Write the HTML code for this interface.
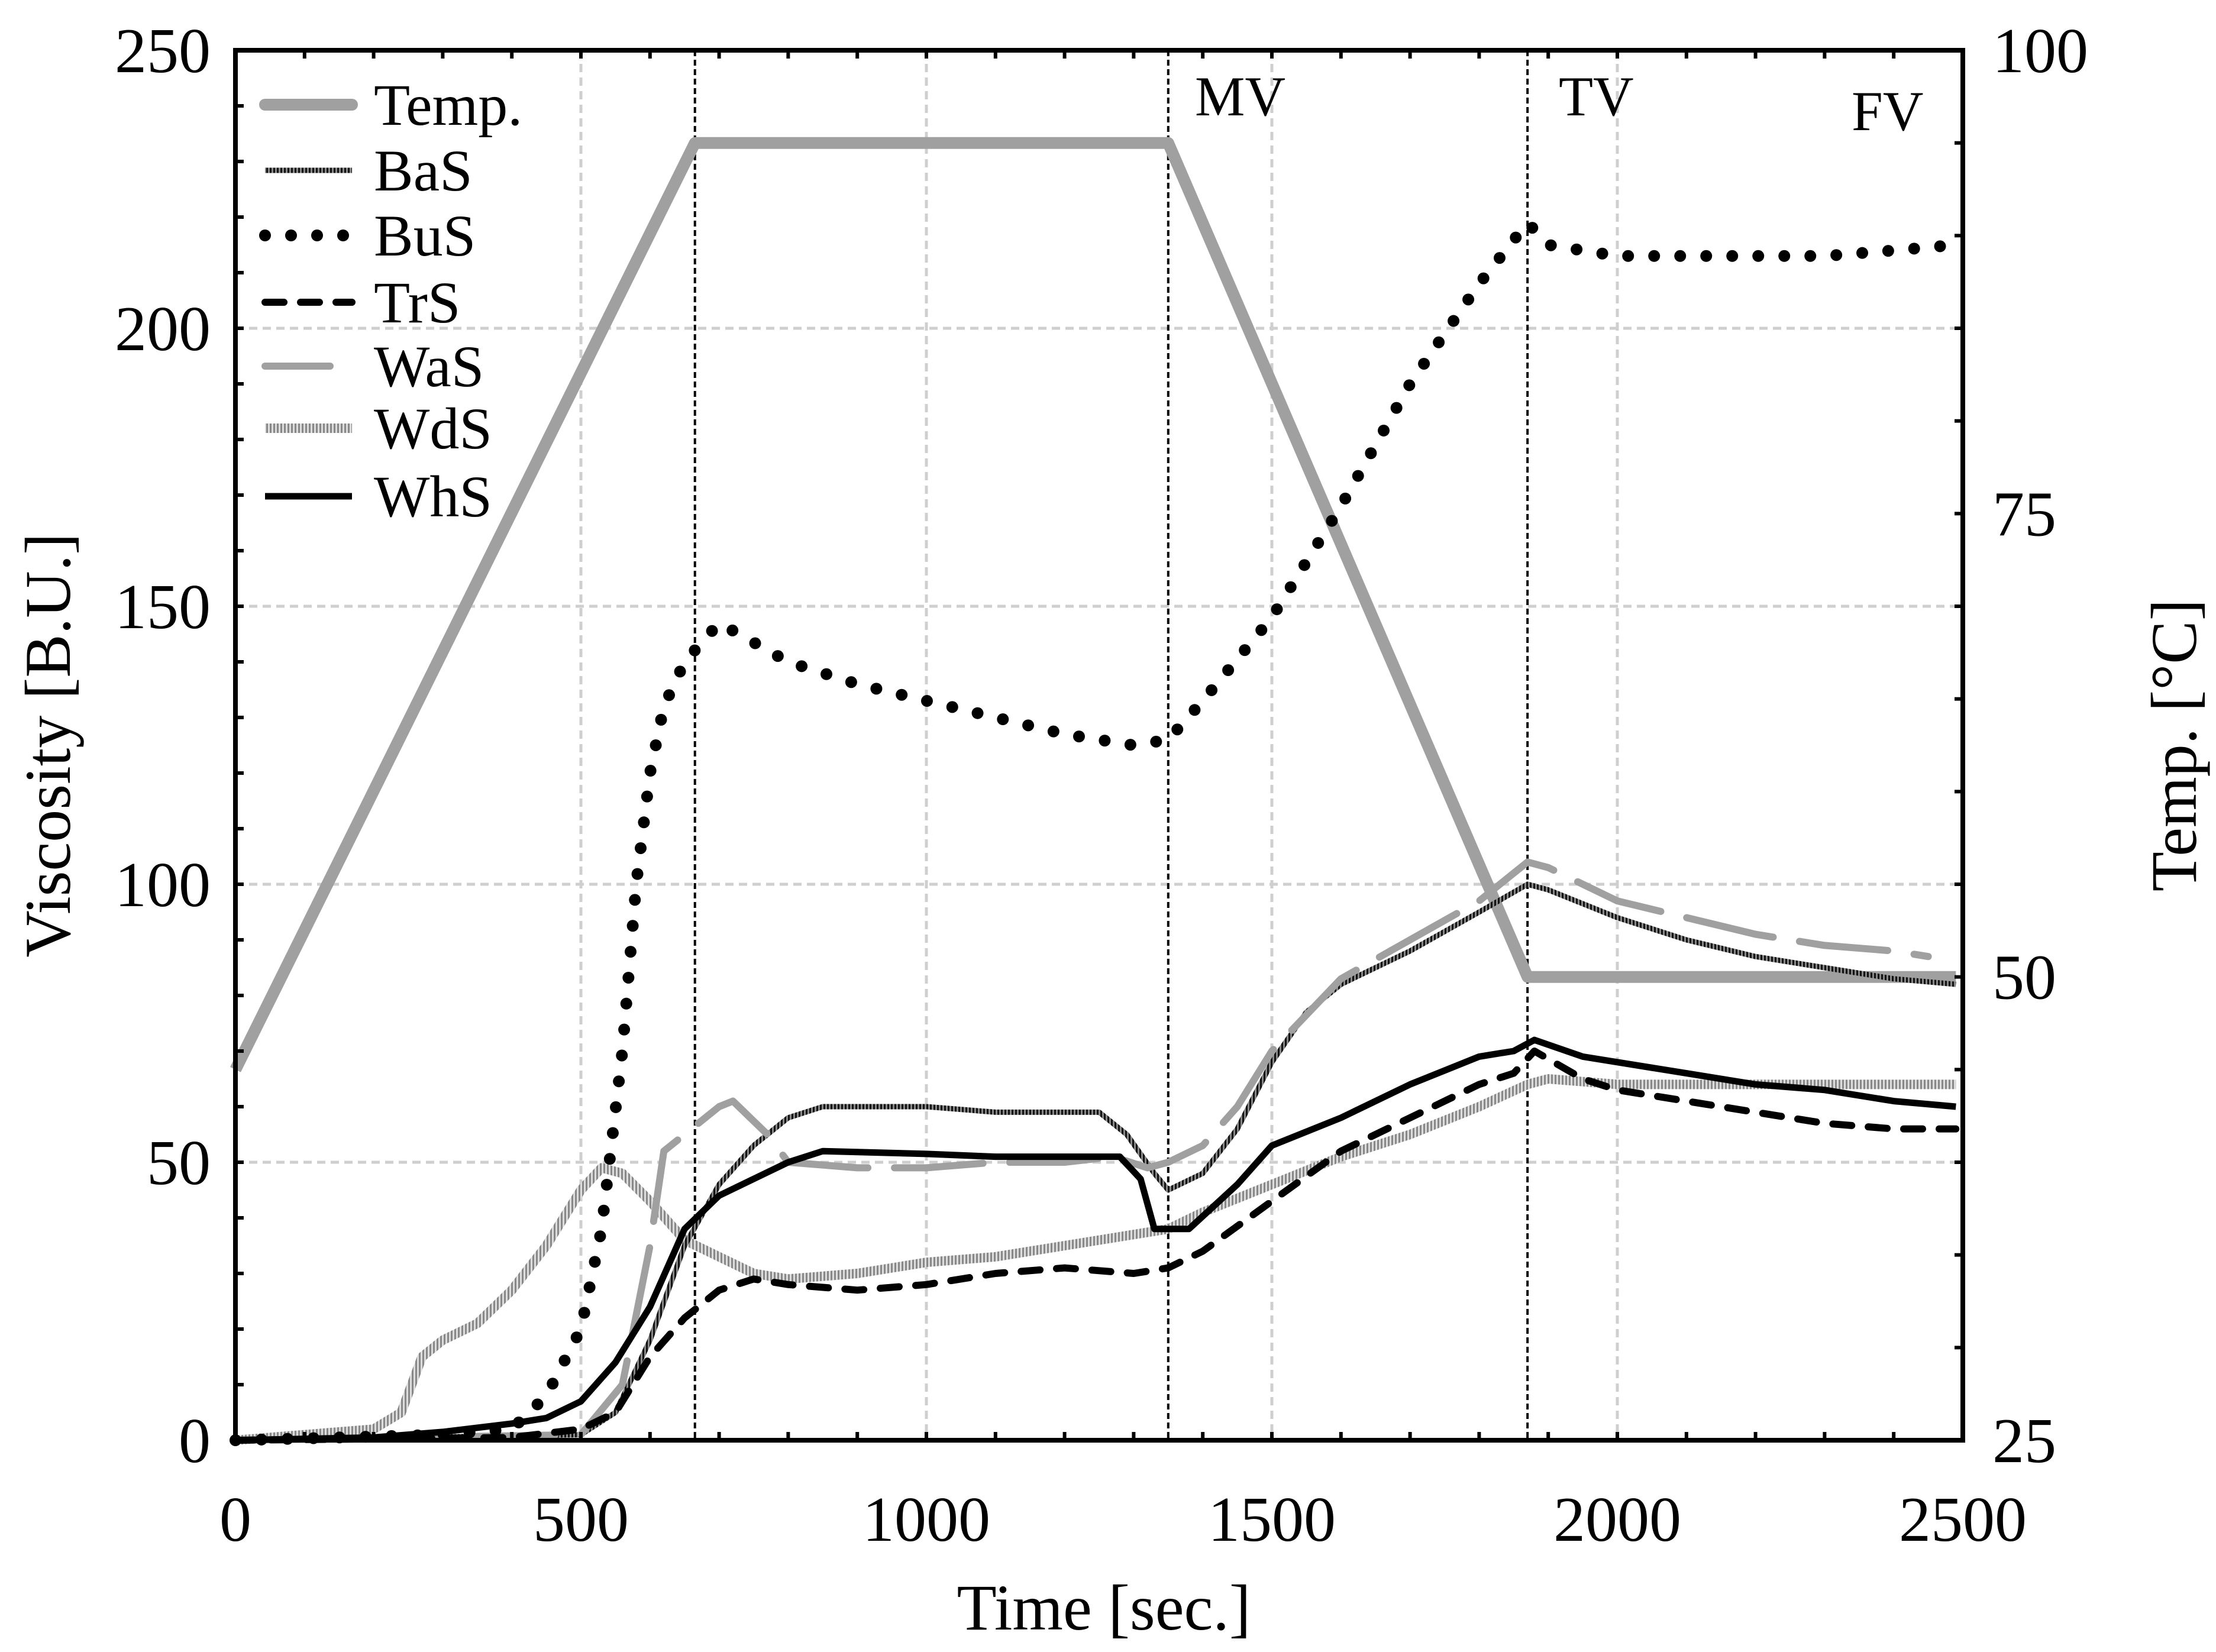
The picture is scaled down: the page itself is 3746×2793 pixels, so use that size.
<!DOCTYPE html>
<html><head><meta charset="utf-8"><style>
html,body{margin:0;padding:0;background:#fff}
svg{display:block}
text{font-family:"Liberation Serif",serif;fill:#000}
</style></head><body>
<svg id="chart" width="3746" height="2793" viewBox="0 0 3746 2793" xmlns="http://www.w3.org/2000/svg">
<defs>
<pattern id="hatchBaS" width="6" height="6" patternUnits="userSpaceOnUse"><rect width="6" height="6" fill="#888"/><rect width="3" height="6" fill="#111"/></pattern>
<pattern id="hatchWdS" width="6" height="6" patternUnits="userSpaceOnUse"><rect width="6" height="6" fill="#ddd"/><rect width="3" height="6" fill="#888"/></pattern>
</defs>
<g id="grid"></g>
<g id="series"></g>
<g id="axes"></g>
</svg>
<script>
const xTicks=[0,500,1000,1500,2000,2500];
const yTicks=[0,50,100,150,200,250];
const tTicks=[25,50,75,100];
const markers=[665,1350,1870];
const markerLabels=["MV","TV","FV"];
const tempT=[0,665,1350,1870,2490];
const tempV=[45,95,95,50,50];
const busT=[0,300,400,450,500,530,560,580,600,620,650,700,800,900,1000,1100,1200,1300,1350,1400,1500,1600,1700,1800,1870,1900,2000,2100,2200,2300,2400,2490];
const busV=[0,1,2,8,20,38,70,100,120,132,140,147,140,136,133,130,127,125,126,133,148,168,190,208,219,215,213,213,213,213,214,215];
const whsT=[0,200,300,400,450,500,550,600,650,700,750,800,850,1000,1100,1200,1280,1310,1330,1380,1450,1500,1600,1700,1800,1850,1880,1950,2000,2100,2200,2300,2400,2490];
const whsV=[0,0.5,1.5,3,4,7,14,24,38,44,47,50,52,51.5,51,51,51,47,38,38,46,53,58,64,69,70,72,69,68,66,64,63,61,60];
const trsT=[0,400,500,550,600,650,700,750,800,900,1000,1100,1200,1300,1350,1400,1500,1600,1700,1800,1850,1880,1950,2000,2100,2200,2300,2400,2490];
const trsV=[0,0.5,2,5,15,22,27,29,28,27,28,30,31,30,31,34,43,52,58,64,66,70,65,63,61,59,57,56,56];
const basT=[0,500,550,600,650,700,750,800,850,1000,1100,1250,1290,1330,1350,1400,1450,1500,1550,1600,1700,1800,1870,1900,2000,2100,2200,2300,2400,2490];
const basV=[0,1,5,18,35,46,53,58,60,60,59,59,55,48,45,48,56,68,77,82,88,95,100,99,94,90,87,85,83,82];
const wasT=[0,500,560,600,620,650,700,720,770,800,900,1000,1100,1200,1270,1320,1350,1400,1450,1500,1600,1700,1800,1870,1900,2000,2100,2200,2300,2400,2450];
const wasV=[0,1,10,35,52,55,60,61,55,50,49,49,50,50,51,49,50,53,60,70,83,90,97,104,103,97,94,91,89,88,87];
const wdsT=[0,200,240,270,300,350,400,450,500,530,560,600,650,700,750,800,900,1000,1100,1200,1300,1350,1400,1500,1600,1700,1800,1870,1900,2000,2100,2200,2300,2400,2490];
const wdsV=[0,2,5,15,18,21,27,35,45,49,48,43,36,33,30,29,30,32,33,35,37,38,41,46,51,55,60,64,65,64,64,64,64,64,64];

const L=398,R=3318,T=85,B=2435;
const xs=t=>L+(t/2500)*(R-L);
const ys=v=>B-(v/250)*(B-T);
const yt=c=>B-((c-25)/75)*(B-T);
const NS="http://www.w3.org/2000/svg";
function mk(tag,parent,attrs){const e=document.createElementNS(NS,tag);for(const k in attrs)e.setAttribute(k,attrs[k]);parent.appendChild(e);return e;}
const grid=document.getElementById('grid'),ser=document.getElementById('series'),ax=document.getElementById('axes');
xTicks.slice(1,-1).forEach(t=>{const e=mk('line',grid,{x1:xs(t),x2:xs(t),y1:T,y2:B,stroke:'#cfcfcf','stroke-width':5,'stroke-dasharray':'14 9'});

});
yTicks.slice(1,-1).forEach(v=>{const e=mk('line',grid,{x1:L,x2:R,y1:ys(v),y2:ys(v),stroke:'#cfcfcf','stroke-width':5,'stroke-dasharray':'14 9'});

});
markers.forEach(t=>{const e=mk('line',grid,{x1:xs(t),x2:xs(t),y1:T,y2:B,stroke:'#000','stroke-width':4,'stroke-dasharray':'10 6'});

});
function path(tA,vA,yf){return tA.map((t,i)=>(i?'L':'M')+xs(t).toFixed(1)+' '+yf(vA[i]).toFixed(1)).join(' ');}
function line(name,tA,vA,yf,st){const e=mk('path',ser,Object.assign({d:path(tA,vA,yf),fill:'none','stroke-linejoin':'round'},st));

}
line('temp-line',tempT,tempV,yt,{stroke:'#a0a0a0','stroke-width':20});
line('wds-line',wdsT,wdsV,ys,{stroke:'url(#hatchWdS)','stroke-width':16});
line('bas-line',basT,basV,ys,{stroke:'url(#hatchBaS)','stroke-width':9});
line('was-line',wasT,wasV,ys,{stroke:'#a0a0a0','stroke-width':12,'stroke-dasharray':'150 45','stroke-linecap':'round'});
line('trs-line',trsT,trsV,ys,{stroke:'#000','stroke-width':12,'stroke-dasharray':'32 28','stroke-linecap':'round'});
line('whs-line',whsT,whsV,ys,{stroke:'#000','stroke-width':11});
line('bus-line',busT,busV,ys,{stroke:'#000','stroke-width':20,'stroke-dasharray':'0 44','stroke-linecap':'round'});
// frame
const fr=mk('rect',ax,{x:L,y:T,width:R-L,height:B-T,fill:'none',stroke:'#000','stroke-width':8});


for(let t=100;t<2500;t+=100){mk('line',ax,{x1:xs(t),x2:xs(t),y1:B,y2:B-14,stroke:'#000','stroke-width':6});mk('line',ax,{x1:xs(t),x2:xs(t),y1:T,y2:T+14,stroke:'#000','stroke-width':6});}
for(let v=10;v<250;v+=10){mk('line',ax,{x1:L,x2:L+14,y1:ys(v),y2:ys(v),stroke:'#000','stroke-width':6});}
for(let c=30;c<100;c+=5){mk('line',ax,{x1:R,x2:R-14,y1:yt(c),y2:yt(c),stroke:'#000','stroke-width':6});}
xTicks.forEach(t=>{const e=mk('text',ax,{x:xs(t),y:2605,'text-anchor':'middle','font-size':108});e.textContent=t;

});
yTicks.forEach(v=>{const e=mk('text',ax,{x:356,y:ys(v)+37,'text-anchor':'end','font-size':108});e.textContent=v;

});
tTicks.forEach(c=>{const e=mk('text',ax,{x:3368,y:yt(c)+37,'text-anchor':'start','font-size':108});e.textContent=c;

});
const mlx=[2020,2635,3130],mly=[195,195,220];
markerLabels.forEach((s,i)=>{const e=mk('text',ax,{x:mlx[i],y:mly[i],'font-size':95});e.textContent=s;

});
let e=mk('text',ax,{x:1866,y:2755,'text-anchor':'middle','font-size':110});e.textContent='Time [sec.]';


e=mk('text',ax,{x:0,y:0,'text-anchor':'middle','font-size':110,transform:'translate(118,1260) rotate(-90)'});e.textContent='Viscosity [B.U.]';


e=mk('text',ax,{x:0,y:0,'text-anchor':'middle','font-size':110,transform:'translate(3712,1260) rotate(-90)'});e.textContent='Temp. [°C]';


// legend
const legNames=['Temp.','BaS','BuS','TrS','WaS','WdS','WhS'];
const legY=[177,288,398,511,619,724,839];
const legSt=[{stroke:'#a0a0a0','stroke-width':20,'stroke-linecap':'round'},{stroke:'url(#hatchBaS)','stroke-width':9},{stroke:'#000','stroke-width':20,'stroke-dasharray':'0 44','stroke-linecap':'round'},{stroke:'#000','stroke-width':12,'stroke-dasharray':'32 28','stroke-linecap':'round'},{stroke:'#a0a0a0','stroke-width':12,'stroke-dasharray':'110 45','stroke-linecap':'round'},{stroke:'url(#hatchWdS)','stroke-width':16},{stroke:'#000','stroke-width':11}];
legNames.forEach((n,i)=>{const g=mk('g',ax,{});


mk('line',g,Object.assign({x1:448,x2:595,y1:legY[i],y2:legY[i]},legSt[i]));
const t=mk('text',g,{x:632,y:legY[i]+34,'font-size':100});t.textContent=n;});
</script>
</body></html>
